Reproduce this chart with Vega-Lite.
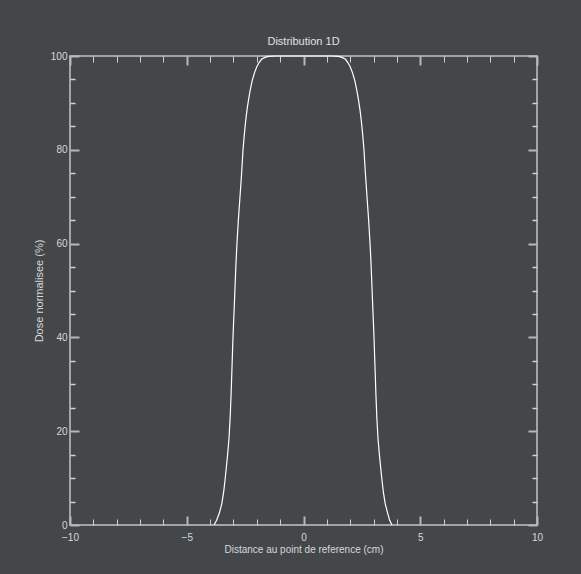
{
  "$schema": "https://vega.github.io/schema/vega-lite/v6.json",
  "width": 467,
  "height": 469,
  "autosize": "none",
  "padding": {"left": 70, "top": 56, "right": 44, "bottom": 49},
  "background": "#43474a",
  "config": {
    "view": {"stroke": "#c4c4c4", "strokeWidth": 1.5},
    "font": "Liberation Sans",
    "axis": {"labelColor": "#d8d8d8", "titleColor": "#d8d8d8", "labelFontSize": 10, "titleFontSize": 10, "titleFontWeight": "normal", "grid": false, "domain": false}
  },
  "title": {"text": "Distribution 1D", "fontSize": 11, "fontWeight": "normal", "color": "#e0e0e0", "offset": 4, "anchor": "middle", "font": "Liberation Sans"},
  "data": {"values": [
    {"d": -3.83, "dose": 0}, {"d": -3.72, "dose": 1}, {"d": -3.6, "dose": 2.6}, {"d": -3.5, "dose": 4.5},
    {"d": -3.42, "dose": 7}, {"d": -3.36, "dose": 9.6}, {"d": -3.3, "dose": 12.5}, {"d": -3.25, "dose": 15},
    {"d": -3.19, "dose": 18.5}, {"d": -3.14, "dose": 23}, {"d": -3.1, "dose": 28}, {"d": -3.06, "dose": 34},
    {"d": -3.02, "dose": 40}, {"d": -2.97, "dose": 46}, {"d": -2.93, "dose": 51}, {"d": -2.89, "dose": 56},
    {"d": -2.85, "dose": 60}, {"d": -2.79, "dose": 65}, {"d": -2.72, "dose": 70}, {"d": -2.65, "dose": 75},
    {"d": -2.59, "dose": 80}, {"d": -2.53, "dose": 83.5}, {"d": -2.48, "dose": 86}, {"d": -2.42, "dose": 88.5},
    {"d": -2.36, "dose": 90.5}, {"d": -2.28, "dose": 92.8}, {"d": -2.2, "dose": 94.7}, {"d": -2.1, "dose": 96.4},
    {"d": -2.0, "dose": 97.7}, {"d": -1.9, "dose": 98.6}, {"d": -1.8, "dose": 99.3}, {"d": -1.65, "dose": 99.7},
    {"d": -1.5, "dose": 99.9}, {"d": -1.2, "dose": 100}, {"d": 0, "dose": 100}, {"d": 1.2, "dose": 100},
    {"d": 1.5, "dose": 99.9}, {"d": 1.65, "dose": 99.7}, {"d": 1.8, "dose": 99.3}, {"d": 1.9, "dose": 98.6},
    {"d": 2.0, "dose": 97.7}, {"d": 2.1, "dose": 96.4}, {"d": 2.2, "dose": 94.7}, {"d": 2.28, "dose": 92.8},
    {"d": 2.36, "dose": 90.5}, {"d": 2.42, "dose": 88.5}, {"d": 2.48, "dose": 86}, {"d": 2.53, "dose": 83.5},
    {"d": 2.59, "dose": 80}, {"d": 2.65, "dose": 75}, {"d": 2.72, "dose": 70}, {"d": 2.79, "dose": 65},
    {"d": 2.85, "dose": 60}, {"d": 2.89, "dose": 56}, {"d": 2.93, "dose": 51}, {"d": 2.97, "dose": 46},
    {"d": 3.02, "dose": 40}, {"d": 3.06, "dose": 34}, {"d": 3.1, "dose": 28}, {"d": 3.14, "dose": 23},
    {"d": 3.19, "dose": 18.5}, {"d": 3.25, "dose": 15}, {"d": 3.3, "dose": 12.5}, {"d": 3.36, "dose": 9.6},
    {"d": 3.42, "dose": 7}, {"d": 3.5, "dose": 4.5}, {"d": 3.6, "dose": 2.6}, {"d": 3.69, "dose": 1},
    {"d": 3.79, "dose": 0}
  ]},
  "resolve": {"axis": {"x": "independent", "y": "independent"}},
  "layer": [
    {
      "mark": {"type": "line", "color": "#ffffff", "strokeWidth": 1.2, "clip": false},
      "encoding": {
        "x": {"field": "d", "type": "quantitative", "scale": {"domain": [-10, 10], "nice": false, "zero": false},
          "axis": {"orient": "bottom", "values": [-10, -5, 0, 5, 10], "tickSize": -9, "tickWidth": 2, "tickColor": "#b8b8b8", "labelPadding": 16, "title": "Distance au point de reference (cm)", "titlePadding": 2, "labelFlush": false}},
        "y": {"field": "dose", "type": "quantitative", "scale": {"domain": [0, 100], "nice": false, "zero": false},
          "axis": {"orient": "left", "values": [0, 20, 40, 60, 80, 100], "tickSize": -9, "tickWidth": 2, "tickColor": "#b8b8b8", "labelPadding": 12, "title": "Dose normalisee (%)", "titleFontSize": 11, "titlePadding": 6, "labelFlush": false}}
      }
    },
    {
      "mark": {"type": "line", "opacity": 0},
      "encoding": {
        "x": {"field": "d", "type": "quantitative",
          "axis": {"orient": "bottom", "values": [-9, -8, -7, -6, -4, -3, -2, -1, 1, 2, 3, 4, 6, 7, 8, 9], "tickSize": -6, "tickWidth": 1, "tickColor": "#d0d0d0", "labels": false, "title": null}},
        "y": {"field": "dose", "type": "quantitative",
          "axis": {"orient": "left", "values": [5, 10, 15, 25, 30, 35, 45, 50, 55, 65, 70, 75, 85, 90, 95], "tickSize": -5, "tickWidth": 1.5, "tickColor": "#d0d0d0", "labels": false, "title": null}}
      }
    },
    {
      "mark": {"type": "line", "opacity": 0},
      "encoding": {
        "x": {"field": "d", "type": "quantitative",
          "axis": {"orient": "top", "values": [-10, -5, 0, 5, 10], "tickSize": -9, "tickWidth": 2, "tickColor": "#b8b8b8", "labels": false, "title": null}},
        "y": {"field": "dose", "type": "quantitative",
          "axis": {"orient": "right", "values": [0, 20, 40, 60, 80, 100], "tickSize": -9, "tickWidth": 2, "tickColor": "#b8b8b8", "labels": false, "title": null}}
      }
    },
    {
      "mark": {"type": "line", "opacity": 0},
      "encoding": {
        "x": {"field": "d", "type": "quantitative",
          "axis": {"orient": "top", "values": [-9, -8, -7, -6, -4, -3, -2, -1, 1, 2, 3, 4, 6, 7, 8, 9], "tickSize": -6, "tickWidth": 1, "tickColor": "#d0d0d0", "labels": false, "title": null}},
        "y": {"field": "dose", "type": "quantitative",
          "axis": {"orient": "right", "values": [5, 10, 15, 25, 30, 35, 45, 50, 55, 65, 70, 75, 85, 90, 95], "tickSize": -5, "tickWidth": 1.5, "tickColor": "#d0d0d0", "labels": false, "title": null}}
      }
    }
  ]
}
